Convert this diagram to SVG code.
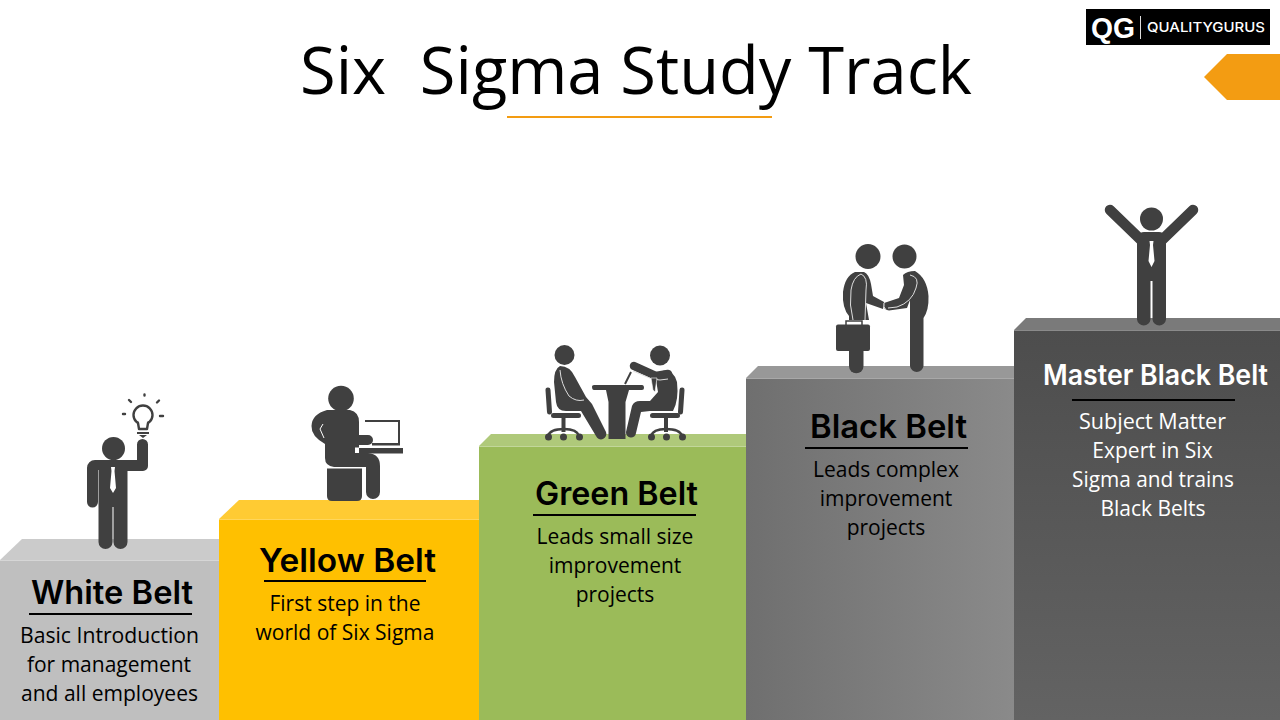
<svg xmlns="http://www.w3.org/2000/svg" width="1280" height="720" viewBox="0 0 1280 720">
<style>
.h{font-family:"Inter","Lato","Liberation Sans",sans-serif;font-weight:600;font-size:32px;text-anchor:middle;fill:#000}
.b{font-family:"Open Sans","Liberation Sans",sans-serif;font-size:21px;text-anchor:middle;fill:#000}
.w{fill:#fff}
.d{fill:#404040}
.s{stroke:#404040;fill:none;stroke-linecap:round;stroke-linejoin:round}
.t{fill:#fff}
.g{stroke:#ddd;stroke-width:1;fill:none}
</style>
<defs>
<linearGradient id="gb" x1="0" y1="0" x2="1" y2="0"><stop offset="0" stop-color="#6f6f6f"/><stop offset="1" stop-color="#8a8a8a"/></linearGradient>
<linearGradient id="gm" x1="0" y1="0" x2="0" y2="1"><stop offset="0" stop-color="#4d4d4d"/><stop offset="1" stop-color="#636363"/></linearGradient>
</defs>
<rect width="1280" height="720" fill="#fff"/>
<g id="title">
<text x="300" y="94" font-family="'Open Sans','Liberation Sans',sans-serif" font-weight="400" font-size="65" xml:space="preserve" fill="#000" textLength="672" lengthAdjust="spacingAndGlyphs">Six  Sigma Study Track</text>
<rect x="507" y="116" width="265" height="2" fill="#f39c12"/>
</g>
<g id="logo">
<rect x="1086" y="9" width="184" height="36" fill="#000"/>
<text x="1091" y="38" font-family="'Liberation Sans',sans-serif" font-weight="700" font-size="29" fill="#fff" textLength="44" lengthAdjust="spacingAndGlyphs">QG</text>
<rect x="1140" y="16" width="1" height="23" fill="#ddd"/>
<text x="1147" y="32" font-family="'Inter','Liberation Sans',sans-serif" font-weight="500" font-size="13.500" fill="#fff" textLength="118" lengthAdjust="spacingAndGlyphs">QUALITYGURUS</text>
</g>
<polygon id="tab" points="1204,77 1227,54 1280,54 1280,100 1227,100" fill="#f39c12"/>

<g id="white-belt">
<polygon points="0,560 22,539 219,539 219,560" fill="#cbcbcb"/>
<rect x="0" y="560" width="219" height="160" fill="#bfbfbf"/>
<rect x="0" y="560" width="219" height="1" fill="#d6d6d6"/>
<circle class="d" cx="113.500" cy="448.500" r="11.500"/>
<path class="d" d="M95 460H137V444.500a5.500 5.500 0 0 1 11 0V466a5 5 0 0 1-5 5H127.500V542a7 7 0 0 1-14 0V507H112.500V542a7 7 0 0 1-14 0V470H98V502a5.500 5.500 0 0 1-11 0V468a8 8 0 0 1 8-8Z"/>
<polygon class="t" points="111,467 115,467 114.500,471 116,488 113,493 110,488 111.500,471"/>
<circle cx="143" cy="415" r="9.500" fill="none" stroke="#404040" stroke-width="2.400"/>
<rect x="137" y="422" width="12" height="9" fill="#fff"/>
<path class="s" stroke-width="2.400" d="M138 423L139 429H147L148 423"/>
<path class="d" d="M137 432H149V434H137ZM139 435H147L143 438Z"/>
<path class="s" stroke-width="2.400" d="M144.500 394.500V395.500M129 400L131 402M159 400.500L157 402.500M123 414H125M160 416H163"/>
</g>

<g id="yellow-belt">
<polygon points="219,519 239,500 479,500 479,519" fill="#ffcb33"/>
<rect x="219" y="519" width="260" height="201" fill="#ffc000"/>
<rect x="219" y="519" width="260" height="1" fill="#ffd65c"/>
<circle class="d" cx="341" cy="398.500" r="12.800"/>
<path d="M365 421H399V444H372" fill="none" stroke="#404040" stroke-width="2"/>
<rect x="372" y="443" width="28" height="2.500" fill="#404040"/>
<path class="d" d="M327 410H350Q359 412 359 422V435H368a5 5 0 0 1 0 10H359V453H368Q380 454 380 466V492a7 7 0 0 1-14 0V467H334Q325 466 325 458V444Q311 436 311.500 426Q312 414 327 410Z"/>
<path d="M323 424L320 429L324 438" fill="none" stroke="#fff" stroke-width="1"/>
<path class="d" d="M327 468.500H362V496Q362 501 357 501H332Q327 501 327 496Z"/>
<rect x="355" y="448" width="48" height="5.500" fill="#404040"/>
<path d="M355 447.500H359V453H355Z" fill="#fff"/>
</g>

<g id="green-belt">
<polygon points="479,446 491,434 746,434 746,446" fill="#afc97a"/>
<rect x="479" y="446" width="267" height="274" fill="#9bbb59"/>
<rect x="479" y="446" width="267" height="1" fill="#c2d79a"/>
<g id="chairs">
<path class="s" stroke-width="5" d="M548 390L549.500 412"/>
<path class="s" stroke-width="5" d="M682 390L680.500 412"/>
<rect x="551" y="413" width="30" height="5" rx="2.500" fill="#404040"/>
<rect x="650" y="413" width="30" height="5" rx="2.500" fill="#404040"/>
<path d="M561.500 418h4v14h-4ZM664 418h4v14h-4Z" fill="#404040"/>
<path class="s" stroke-width="2.500" d="M548 436Q550 429 564 429Q577 429 579 436M651 436Q653 429 666 429Q680 429 682 436"/>
<path class="d" d="M545 437a3.500 3.500 0 0 1 7 0a3.500 3.500 0 0 1-7 0ZM560 437a3.500 3.500 0 0 1 7 0a3.500 3.500 0 0 1-7 0ZM576 437a3.500 3.500 0 0 1 7 0a3.500 3.500 0 0 1-7 0ZM648 437a3.500 3.500 0 0 1 7 0a3.500 3.500 0 0 1-7 0ZM663 437a3.500 3.500 0 0 1 7 0a3.500 3.500 0 0 1-7 0ZM679 437a3.500 3.500 0 0 1 7 0a3.500 3.500 0 0 1-7 0Z"/>
</g>
<circle class="d" cx="564.500" cy="355" r="10"/>
<path class="d" d="M560 366Q570 366 575 377L586 397L592 404L606 432a4.500 4.500 0 0 1-10 4L581 411H566Q557 411 556 402L554 382Q554 369 560 366Z"/>
<path d="M560 370Q561 384 569 396Q576 402 584 400" class="g"/>
<circle class="d" cx="660" cy="355.500" r="10"/>
<path class="d" d="M655 374Q672 364 677 382Q679 400 673 411H650L641 412L636 433a5 5 0 0 1-10-1L632 406Q634 401 640 401H650L658 392Z"/>
<path class="s" stroke-width="8.500" d="M634 366L656 376L668 374"/>
<path d="M633 371L652 379Q660 381 668 379" class="g"/>
<polygon points="651,378 657,378 655,392 653,390" fill="#404040" stroke="#fff" stroke-width=".6"/>
<path d="M631 372L625 384" stroke="#404040" stroke-width="2" fill="none"/>
<path d="M592 386.500Q592 385 594 385H642Q644 385 644 388Q644 390 642 390H629L625.500 402V439H608.500V402L606 390H594Q592 390 592 386.500Z" fill="#404040"/>
</g>

<g id="black-belt">
<polygon points="746,378 758,366 1014,366 1014,378" fill="#989898"/>
<rect x="746" y="378" width="268" height="342" fill="url(#gb)"/>
<rect x="746" y="378" width="268" height="1" fill="#a8a8a8"/>
<circle class="d" cx="868" cy="256.500" r="12.500"/>
<circle class="d" cx="904.500" cy="256.500" r="12"/>
<path class="d" d="M855 272H864Q869 274 871 284L873 296L884 302L883 309L866 303L869 320H849V316Q842 308 843 292Q845 276 855 272Z"/>
<path class="g" d="M861 274Q853 277 851 290Q849 305 853 320"/>
<path class="g" d="M861 274Q868 277 866 290L865 320"/>
<path class="d" d="M849 350H863.500V366a7 7 0 0 1-14.500 0Z"/>
<path d="M846 327V322H862V327" fill="none" stroke="#fff" stroke-width="3.500"/>
<path d="M846 326V321H862V326" fill="none" stroke="#404040" stroke-width="1.500"/>
<rect x="836" y="324.500" width="34" height="26.500" rx="2" fill="#404040"/>
<path class="d" d="M903 275Q907 271 915 271Q927 278 928.500 296Q929 310 923.500 318V366a6.800 6.800 0 0 1-13.500 0V300L907 308L889 310.500Q882 310 884 303L899 298L904 285Z"/>
<path class="g" d="M910 275Q920 277 916 288Q912 302 897 307L888 308"/>
<path d="M884 303Q883 307 886 310" class="g"/>
</g>

<g id="master-black-belt">
<polygon points="1014,330 1026,318 1280,318 1280,330" fill="#7a7a7a"/>
<rect x="1014" y="330" width="266" height="390" fill="url(#gm)"/>
<rect x="1014" y="330" width="266" height="1" fill="#8a8a8a"/>
<circle class="d" cx="1151.500" cy="219" r="11.500"/>
<path class="s" stroke-width="10.500" d="M1110 210L1141 240M1193 210L1162 240"/>
<path class="d" d="M1137 236Q1140 232 1144 232H1159Q1163 232 1166 236V319.500a6.800 6.800 0 0 1-13.500 0V281H1150.500V319.500a6.800 6.800 0 0 1-13.500 0Z"/>
<polygon class="t" points="1149.500,241 1153.500,241 1153,245 1154.500,261 1151.500,267 1148.500,261 1150,245"/>
</g>

<g id="labels">
<text class="h" x="112" y="604" textLength="162" lengthAdjust="spacingAndGlyphs">White Belt</text>
<rect x="29" y="613" width="163" height="2" fill="#000"/>
<text class="b" x="109.500" y="643" textLength="179" lengthAdjust="spacingAndGlyphs">Basic Introduction</text>
<text class="b" x="109" y="672">for management</text>
<text class="b" x="109.500" y="701" textLength="177" lengthAdjust="spacingAndGlyphs">and all employees</text>

<text class="h" x="347.500" y="572" textLength="177" lengthAdjust="spacingAndGlyphs">Yellow Belt</text>
<rect x="264" y="580" width="162" height="2" fill="#000"/>
<text class="b" x="345" y="611">First step in the</text>
<text class="b" x="345" y="640">world of Six Sigma</text>

<text class="h" x="616.500" y="505" textLength="163" lengthAdjust="spacingAndGlyphs">Green Belt</text>
<rect x="533" y="514" width="163" height="2" fill="#000"/>
<text class="b" x="615" y="544">Leads small size</text>
<text class="b" x="615" y="573">improvement</text>
<text class="b" x="615" y="602">projects</text>

<text class="h" x="888.500" y="438" textLength="157" lengthAdjust="spacingAndGlyphs">Black Belt</text>
<rect x="805" y="447" width="163" height="2" fill="#000"/>
<text class="b" x="886" y="477">Leads complex</text>
<text class="b" x="886" y="506">improvement</text>
<text class="b" x="886" y="535">projects</text>

<text class="h" x="1155.500" y="385" style="fill:#fff;font-size:28.500px" textLength="225" lengthAdjust="spacingAndGlyphs">Master Black Belt</text>
<rect x="1072" y="399" width="163" height="2" fill="#000"/>
<text class="b" x="1152.500" y="429" style="fill:#fff" textLength="147" lengthAdjust="spacingAndGlyphs">Subject Matter</text>
<text class="b" x="1152.500" y="458" style="fill:#fff">Expert in Six</text>
<text class="b" x="1153" y="487" style="fill:#fff" textLength="162" lengthAdjust="spacingAndGlyphs">Sigma and trains</text>
<text class="b" x="1153" y="516" style="fill:#fff">Black Belts</text>
</g>
</svg>
